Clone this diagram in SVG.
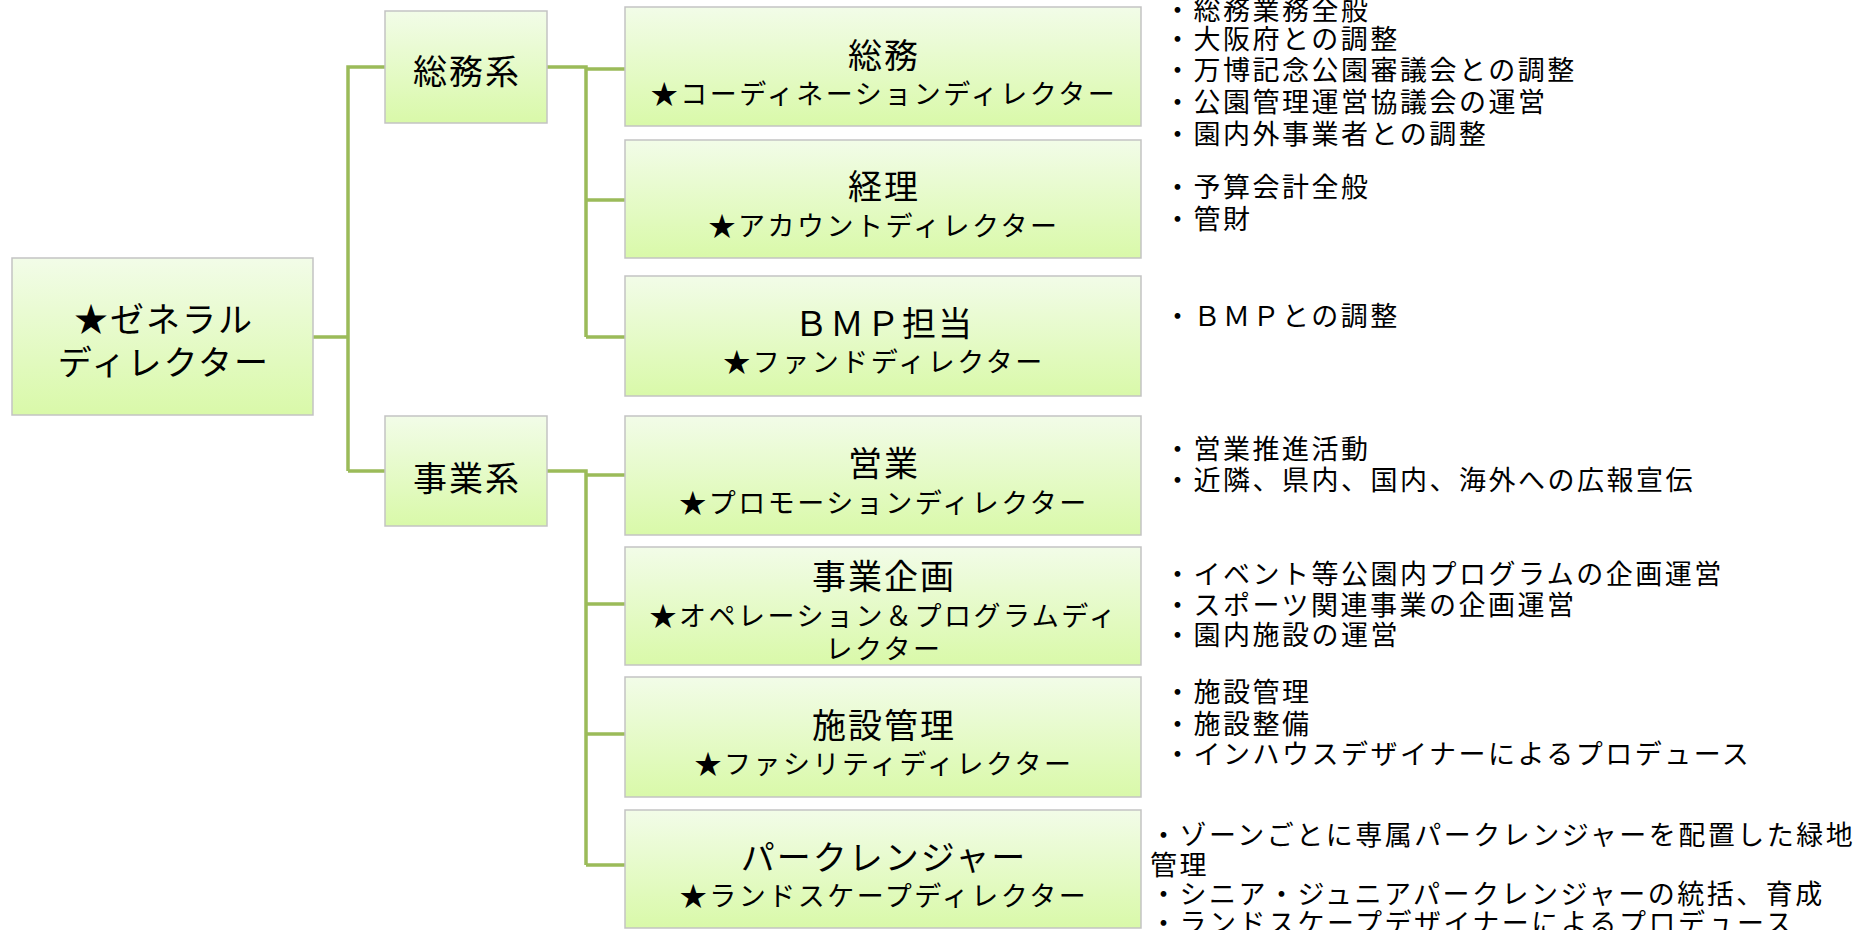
<svg xmlns="http://www.w3.org/2000/svg" width="1876" height="930" viewBox="0 0 1876 930">
<defs>
<linearGradient id="g" x1="0" y1="0" x2="0" y2="1">
<stop offset="0" stop-color="#F2FCE8"/>
<stop offset="1" stop-color="#D9F9A9"/>
</linearGradient>
<style>
.box{fill:url(#g);stroke:#C3C3C3;stroke-width:1.5}
text{font-family:"Noto Sans CJK JP","Noto Sans CJK SC",sans-serif;fill:#000;dominant-baseline:central}
.big{font-size:34px;letter-spacing:2px;text-anchor:middle}
.sub{font-size:27px;letter-spacing:2.5px;text-anchor:middle}
.note{font-size:27px;letter-spacing:2.5px}
.conn{stroke:#9BBB59;stroke-width:3.5;fill:none}
</style>
</defs>
<rect width="1876" height="930" fill="#fff"/>

<g id="connectors">
<path class="conn" d="M313,337 H348 V471 M348,337 V67 H385 M348,471 H385"/>
<path class="conn" d="M547,67 H586 V337 M586,69 H625 M586,200 H625 M586,337 H625"/>
<path class="conn" d="M547,471 H586 V865 M586,475 H625 M586,604 H625 M586,734 H625 M586,865 H625"/>
</g>

<g id="gd">
<rect class="box" x="12" y="258" width="301" height="157"/>
<text class="big" x="164" y="317">★ゼネラル</text>
<text class="big" x="164" y="360">ディレクター</text>
</g>

<g id="somu-kei">
<rect class="box" x="385" y="11" width="162" height="112"/>
<text class="big" x="467" y="69">総務系</text>
</g>

<g id="jigyo-kei">
<rect class="box" x="385" y="416" width="162" height="110"/>
<text class="big" x="467" y="476">事業系</text>
</g>

<g id="somu">
<rect class="box" x="625" y="7" width="516" height="119"/>
<text class="big" x="884" y="53">総務</text>
<text class="sub" x="884" y="92">★コーディネーションディレクター</text>
</g>

<g id="keiri">
<rect class="box" x="625" y="140" width="516" height="118"/>
<text class="big" x="884" y="184">経理</text>
<text class="sub" x="884" y="224">★アカウントディレクター</text>
</g>

<g id="bmp">
<rect class="box" x="625" y="276" width="516" height="120"/>
<text class="big" x="884" y="321">ＢＭＰ担当</text>
<text class="sub" x="884" y="360">★ファンドディレクター</text>
</g>

<g id="eigyo">
<rect class="box" x="625" y="416" width="516" height="119"/>
<text class="big" x="884" y="461">営業</text>
<text class="sub" x="884" y="501">★プロモーションディレクター</text>
</g>

<g id="kikaku">
<rect class="box" x="625" y="547" width="516" height="118"/>
<text class="big" x="884" y="574">事業企画</text>
<text class="sub" x="884" y="614">★オペレーション＆プログラムディ</text>
<text class="sub" x="884" y="647">レクター</text>
</g>

<g id="shisetsu">
<rect class="box" x="625" y="677" width="516" height="120"/>
<text class="big" x="884" y="723">施設管理</text>
<text class="sub" x="884" y="762">★ファシリティディレクター</text>
</g>

<g id="park">
<rect class="box" x="625" y="810" width="516" height="118"/>
<text class="big" x="884" y="855">パークレンジャー</text>
<text class="sub" x="884" y="894">★ランドスケープディレクター</text>
</g>

<g id="notes-somu">
<text class="note" x="1164" y="8">・総務業務全般</text>
<text class="note" x="1164" y="37">・大阪府との調整</text>
<text class="note" x="1164" y="68">・万博記念公園審議会との調整</text>
<text class="note" x="1164" y="100">・公園管理運営協議会の運営</text>
<text class="note" x="1164" y="132">・園内外事業者との調整</text>
</g>
<g id="notes-keiri">
<text class="note" x="1164" y="185">・予算会計全般</text>
<text class="note" x="1164" y="217">・管財</text>
</g>
<g id="notes-bmp">
<text class="note" x="1164" y="314">・ＢＭＰとの調整</text>
</g>
<g id="notes-eigyo">
<text class="note" x="1164" y="447">・営業推進活動</text>
<text class="note" x="1164" y="478">・近隣、県内、国内、海外への広報宣伝</text>
</g>
<g id="notes-kikaku">
<text class="note" x="1164" y="572">・イベント等公園内プログラムの企画運営</text>
<text class="note" x="1164" y="603">・スポーツ関連事業の企画運営</text>
<text class="note" x="1164" y="633">・園内施設の運営</text>
</g>
<g id="notes-shisetsu">
<text class="note" x="1164" y="690">・施設管理</text>
<text class="note" x="1164" y="722">・施設整備</text>
<text class="note" x="1164" y="752">・インハウスデザイナーによるプロデュース</text>
</g>
<g id="notes-park">
<text class="note" x="1150" y="833">・ゾーンごとに専属パークレンジャーを配置した緑地</text>
<text class="note" x="1150" y="863">管理</text>
<text class="note" x="1150" y="892">・シニア・ジュニアパークレンジャーの統括、育成</text>
<text class="note" x="1150" y="921">・ランドスケープデザイナーによるプロデュース</text>
</g>
</svg>
